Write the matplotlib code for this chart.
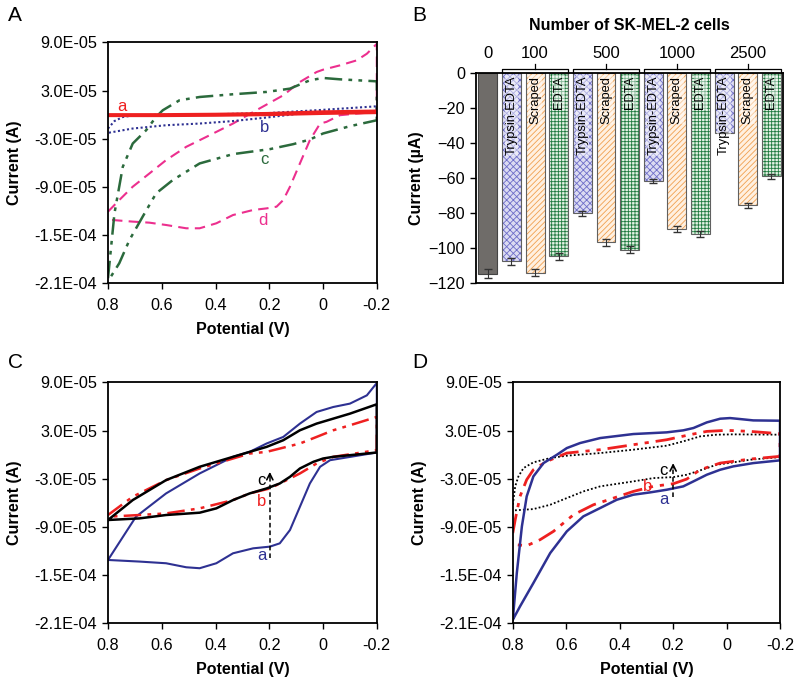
import matplotlib
matplotlib.use("Agg")
import matplotlib.pyplot as plt
import matplotlib.transforms as mtransforms
from matplotlib.ticker import FuncFormatter
import numpy as np

plt.rcParams["font.family"] = ["Liberation Sans", "DejaVu Sans"]
plt.rcParams["hatch.linewidth"] = 0.6

# ---- panel A : CVs (potential in V, current in uA) ----
A_a_up_E = [0.8, 0.6, 0.4, 0.2, 0.0, -0.2]
A_a_up_I = [0.0, 0.0, 0.5, 1.5, 3.5, 4.5]
A_a_lo_E = [-0.2, 0.0, 0.2, 0.4, 0.6, 0.8]
A_a_lo_I = [2.5, 1.5, 0.0, -0.8, -1.2, -1.2]

A_b_up_E = [0.8, 0.776, 0.745, 0.708, 0.6, 0.4, 0.2, 0.0, -0.2]
A_b_up_I = [-17.3, -8.0, -3.0, -1.0, 0.0, 0.5, 2.0, 6.0, 10.4]
A_b_lo_E = [-0.2, 0.0, 0.086, 0.21, 0.335, 0.459, 0.584, 0.708, 0.8]
A_b_lo_I = [4.2, 3.4, 1.3, -3.6, -8.0, -11.1, -13.2, -17.3, -22.7]

A_c_up_E = [0.8, 0.776, 0.745, 0.708, 0.658, 0.621, 0.596, 0.534, 0.459, 0.335,
            0.21, 0.123, 0.049, 0.0, -0.063, -0.2]
A_c_up_I = [-203.8, -123.0, -65.0, -36.0, -19.4, -2.8, 5.5, 17.9, 22.0, 25.4,
            28.3, 32.4, 42.8, 45.7, 44.0, 41.5]
A_c_lo_E = [-0.2, -0.1, 0.0, 0.049, 0.111, 0.198, 0.335, 0.459, 0.559, 0.621,
            0.671, 0.72, 0.758, 0.789]
A_c_lo_I = [-7.0, -14.4, -23.5, -31.0, -36.8, -43.0, -49.2, -60.8, -81.5, -98.1,
            -127.1, -156.1, -185.1, -201.7]

A_d_up_E = [0.8, 0.758, 0.708, 0.646, 0.584, 0.509, 0.434, 0.335, 0.248, 0.148,
            0.086, 0.024, 0.0, -0.063, -0.125, -0.163, -0.2]
A_d_up_I = [-120.9, -106.4, -89.8, -73.3, -56.7, -40.1, -27.7, -11.1, 5.5, 24.1,
            40.7, 53.1, 56.0, 61.4, 67.6, 75.9, 88.3]
A_d_lo_E = [-0.2, -0.125, -0.063, -0.013, 0.011, 0.049, 0.086, 0.123, 0.148, 0.173,
            0.21, 0.26, 0.335, 0.397, 0.459, 0.509, 0.584, 0.646, 0.708, 0.783, 0.8]
A_d_lo_I = [3.4, 1.3, -0.7, -9.0, -11.1, -31.8, -60.8, -89.8, -106.4, -114.7,
            -116.8, -118.8, -125.1, -135.4, -141.6, -141.6, -137.5, -134.6, -133.3,
            -131.3, -131.3]

# ---- panel B : bar chart ----
cell_numbers = ["0", "100", "500", "1000", "2500"]
control_val = -114.5
control_err = 2.5
trypsin_vals = [-107.5, -80.0, -61.5, -34.0]
trypsin_errs = [2.0, 1.5, 1.3, 0.4]
scraped_vals = [-114.0, -96.5, -89.0, -75.5]
scraped_errs = [2.0, 2.0, 1.5, 1.5]
edta_vals = [-104.5, -101.0, -92.0, -59.0]
edta_errs = [2.0, 2.0, 1.8, 1.5]
bar_names = ["Trypsin-EDTA", "Scraped", "EDTA"]

# ---- panel C ----
C_a_up_E = [0.8, 0.696, 0.584, 0.459, 0.335, 0.273, 0.21, 0.148, 0.086, 0.024,
            -0.038, -0.1, -0.163, -0.2]
C_a_up_I = [-131.3, -77.4, -48.4, -23.5, -2.8, 3.4, 13.8, 22.0, 38.6, 53.1,
            59.3, 63.5, 73.8, 89.2]
C_a_lo_E = [-0.2, -0.026, 0.011, 0.049, 0.086, 0.123, 0.161, 0.198, 0.26, 0.335,
            0.397, 0.459, 0.509, 0.584, 0.683, 0.8]
C_a_lo_I = [2.6, -7.0, -15.2, -36.0, -65.0, -94.0, -110.6, -114.7, -116.8, -123.0,
            -135.4, -141.6, -140.4, -135.4, -133.3, -131.3]

C_b_up_E = [0.8, 0.708, 0.584, 0.459, 0.335, 0.273, 0.21, 0.086, 0.024, -0.038,
            -0.1, -0.2]
C_b_up_I = [-75.3, -52.5, -31.8, -17.3, -4.9, 1.3, 3.4, 13.8, 22.0, 30.3, 36.5, 46.9]
C_b_lo_E = [-0.2, -0.038, 0.024, 0.086, 0.148, 0.198, 0.273, 0.335, 0.459, 0.584,
            0.683, 0.8]
C_b_lo_I = [5.5, -2.8, -11.1, -23.5, -33.9, -42.2, -48.4, -56.7, -67.0, -73.3,
            -75.3, -77.4]

C_c_up_E = [0.8, 0.708, 0.584, 0.459, 0.335, 0.273, 0.21, 0.148, 0.086, 0.024,
            -0.038, -0.1, -0.2]
C_c_up_I = [-81.5, -56.7, -31.8, -15.2, -2.8, 3.4, 9.6, 17.9, 30.3, 38.6, 44.8,
            51.0, 62.7]
C_c_lo_E = [-0.2, -0.038, 0.0, 0.036, 0.086, 0.123, 0.161, 0.21, 0.273, 0.335,
            0.397, 0.459, 0.584, 0.683, 0.8]
C_c_lo_I = [2.6, -2.8, -4.9, -9.0, -17.3, -27.7, -36.0, -42.2, -48.4, -56.7,
            -67.0, -72.4, -75.3, -79.5, -81.5]

# ---- panel D ----
D_a_up_E = [0.8, 0.785, 0.766, 0.748, 0.723, 0.685, 0.635, 0.598, 0.548, 0.473,
            0.349, 0.224, 0.162, 0.124, 0.074, 0.024, -0.013, -0.05, -0.1, -0.2]
D_a_up_I = [-205.8, -147.7, -89.5, -52.1, -27.2, -10.6, -0.2, 8.1, 14.4, 20.6,
            25.6, 27.7, 30.2, 33.1, 40.1, 44.7, 45.5, 44.3, 42.6, 42.2]
D_a_lo_E = [-0.2, -0.1, -0.025, 0.024, 0.074, 0.124, 0.162, 0.224, 0.286, 0.349,
            0.411, 0.473, 0.536, 0.598, 0.66, 0.723, 0.773, 0.8]
D_a_lo_I = [-7.2, -10.6, -14.7, -18.9, -25.1, -33.4, -39.6, -43.8, -47.1, -50.0,
            -56.3, -66.6, -77.0, -95.7, -122.7, -160.1, -189.2, -205.8]

D_b_up_E = [0.8, 0.791, 0.773, 0.748, 0.723, 0.673, 0.598, 0.473, 0.349, 0.224,
            0.137, 0.074, 0.0, -0.088, -0.2]
D_b_up_I = [-97.8, -81.2, -52.1, -31.3, -18.9, -8.5, 1.9, 6.1, 12.3, 18.5, 24.8,
            28.9, 30.2, 28.9, 26.0]
D_b_lo_E = [-0.2, -0.088, 0.024, 0.099, 0.149, 0.199, 0.274, 0.349, 0.423, 0.498,
            0.573, 0.648, 0.698, 0.748, 0.785, 0.8]
D_b_lo_I = [-2.2, -5.6, -10.6, -18.9, -30.5, -36.3, -39.6, -45.9, -54.2, -62.5,
            -75.0, -95.7, -106.1, -113.6, -112.4, -110.3]

D_c_up_E = [0.8, 0.791, 0.779, 0.76, 0.723, 0.66, 0.598, 0.473, 0.349, 0.224,
            0.162, 0.099, 0.037, -0.025, -0.2]
D_c_up_I = [-62.5, -39.6, -27.2, -16.8, -9.7, -4.3, -1.4, 1.9, 6.1, 11.1, 16.5,
            22.7, 24.8, 25.2, 24.8]
D_c_lo_E = [-0.2, -0.088, -0.025, 0.037, 0.099, 0.149, 0.199, 0.274, 0.349, 0.473,
            0.536, 0.598, 0.66, 0.723, 0.8]
D_c_lo_I = [-3.1, -6.4, -9.7, -12.6, -19.7, -25.1, -28.0, -29.3, -33.4, -39.6,
            -45.9, -54.2, -62.5, -67.9, -69.6]

potential_ticks = [0.8, 0.6, 0.4, 0.2, 0.0, -0.2]
potential_labels = ["0.8", "0.6", "0.4", "0.2", "0", "-0.2"]
current_ticks = [-2.1e-4, -1.5e-4, -9e-5, -3e-5, 3e-5, 9e-5]

RED = "#ee2020"
BLUE = "#2e3192"
GREEN = "#2b6a3c"
PINK = "#ec2f8e"
DDOT = (0, (7, 2.5, 1.5, 2.5, 1.5, 2.5))

fig = plt.figure(figsize=(8, 6.84), dpi=100)
axA = fig.add_axes([0.135, 0.586, 0.336, 0.352])
axB = fig.add_axes([0.595, 0.586, 0.384, 0.307])
axC = fig.add_axes([0.135, 0.089, 0.336, 0.352])
axD = fig.add_axes([0.641, 0.089, 0.334, 0.352])


def cv(ax, e_up, i_up, e_lo, i_lo, **kw):
    e = np.concatenate([e_up, e_lo])
    i = np.concatenate([i_up, i_lo]) * 1e-6
    ax.plot(e, i, **kw)


def style_cv(ax):
    ax.set_xlim(0.8, -0.2)
    ax.set_ylim(-2.1e-4, 9e-5)
    ax.set_xticks(potential_ticks)
    ax.set_xticklabels(potential_labels)
    ax.set_yticks(current_ticks)
    ax.yaxis.set_major_formatter(FuncFormatter(lambda v, p: f"{v:.1E}"))
    ax.tick_params(direction="out", length=4, width=1, labelsize=11.7)
    ax.tick_params(axis="x", pad=7)
    ax.tick_params(axis="y", pad=4)
    for s in ax.spines.values():
        s.set_linewidth(1.3)
    ax.set_xlabel("Potential (V)", fontsize=11.5, fontweight="bold", labelpad=6)
    ax.set_ylabel("Current (A)", fontsize=11.5, fontweight="bold", labelpad=9)


def updown_arrow(ax, x, y0, y1):
    ax.plot([x, x], [y0 * 1e-6, (y1 - 3) * 1e-6], color="k", lw=1.1, ls=(0, (3, 2)))
    ax.annotate("", xy=(x, y1 * 1e-6), xytext=(x, (y1 - 6) * 1e-6),
                arrowprops=dict(arrowstyle="->", color="k", lw=1.2,
                                shrinkA=0, shrinkB=0, mutation_scale=11))


# panel A
cv(axA, A_d_up_E, A_d_up_I, A_d_lo_E, A_d_lo_I, color=PINK, lw=1.5, ls=(0, (5, 3)))
cv(axA, A_c_up_E, A_c_up_I, A_c_lo_E, A_c_lo_I, color=GREEN, lw=1.8, ls=DDOT)
cv(axA, A_b_up_E, A_b_up_I, A_b_lo_E, A_b_lo_I, color=BLUE, lw=1.5, ls=(0, (1, 1.2)))
cv(axA, A_a_up_E, A_a_up_I, A_a_lo_E, A_a_lo_I, color=RED, lw=2.2)
style_cv(axA)
axA.text(0.748, 10.4e-6, "a", color=RED, fontsize=12, ha="center", va="center")
axA.text(0.217, -16.5e-6, "b", color=BLUE, fontsize=12, ha="center", va="center")
axA.text(0.217, -55.8e-6, "c", color=GREEN, fontsize=12, ha="center", va="center")
axA.text(0.223, -131.3e-6, "d", color=PINK, fontsize=12, ha="center", va="center")

# panel B
x_ctrl = 0
groups = np.arange(len(trypsin_vals))
x_tryp = 1 + 3 * groups
x_scr = 2 + 3 * groups
x_edta = 3 + 3 * groups

axB.bar(x_ctrl, control_val, 0.8, color="#6f6c69", edgecolor="#444444", lw=0.8)
series = [
    (x_tryp, trypsin_vals, trypsin_errs, "#dcdcf2", "#6e6ec8", "xxxxx"),
    (x_scr, scraped_vals, scraped_errs, "#fff0e0", "#f0a050", "//////"),
    (x_edta, edta_vals, edta_errs, "#e4f2e4", "#1f7a3f", "+++++"),
]
for xs, vals, errs, face, hc, h in series:
    axB.bar(xs, vals, 0.8, color=face, edgecolor=hc, hatch=h, lw=0)
    axB.bar(xs, vals, 0.8, fill=False, edgecolor="#606060", lw=0.8)
axB.errorbar([x_ctrl], [control_val], yerr=[control_err], fmt="none",
             ecolor="#333333", elinewidth=0.8, capsize=3)
for xs, vals, errs, face, hc, h in series:
    axB.errorbar(xs, vals, yerr=errs, fmt="none", ecolor="#333333",
                 elinewidth=0.8, capsize=3)
for k, (xs, vals, errs, face, hc, h) in enumerate(series):
    for xv in xs:
        axB.text(xv, -1.5, bar_names[k], rotation=90, ha="center", va="top",
                 fontsize=9.3, color="black",
                 bbox=dict(facecolor="white", alpha=0.45, edgecolor="none", pad=0.6))

axB.set_xlim(-0.5, 12.5)
axB.set_ylim(-120, 0)
axB.set_yticks(range(-120, 1, 20))
axB.set_xticks([])
axB.tick_params(direction="out", length=4, width=1, labelsize=11.7, pad=4)
for s in axB.spines.values():
    s.set_linewidth(1.3)
axB.set_ylabel("Current (\u00b5A)", fontsize=11.5, fontweight="bold", labelpad=3)

trans = mtransforms.blended_transform_factory(axB.transData, axB.transAxes)
group_centers = [0] + list(x_scr)
for k, label in enumerate(cell_numbers):
    axB.text(group_centers[k], 1.095, label, transform=trans, ha="center",
             va="center", fontsize=12)
for g in groups:
    left = x_tryp[g] - 0.4
    right = x_edta[g] + 0.4
    mid = x_scr[g]
    axB.plot([left, left, right, right], [1.0, 1.022, 1.022, 1.0], transform=trans,
             color="k", lw=0.9, clip_on=False)
    axB.plot([mid, mid], [1.022, 1.045], transform=trans, color="k", lw=0.9,
             clip_on=False)
axB.text(0.5, 1.229, "Number of SK-MEL-2 cells", transform=axB.transAxes,
         ha="center", va="center", fontsize=11.5, fontweight="bold")

# panel C
cv(axC, C_a_up_E, C_a_up_I, C_a_lo_E, C_a_lo_I, color=BLUE, lw=1.5)
cv(axC, C_b_up_E, C_b_up_I, C_b_lo_E, C_b_lo_I, color=RED, lw=1.8, ls=DDOT)
cv(axC, C_c_up_E, C_c_up_I, C_c_lo_E, C_c_lo_I, color="k", lw=1.8)
style_cv(axC)
updown_arrow(axC, 0.198, -129.0, -21.5)
axC.text(0.229, -31.8e-6, "c", color="k", fontsize=12, ha="center", va="center")
axC.text(0.229, -58.8e-6, "b", color=RED, fontsize=12, ha="center", va="center")
axC.text(0.229, -126.3e-6, "a", color=BLUE, fontsize=12, ha="center", va="center")

# panel D
cv(axD, D_c_up_E, D_c_up_I, D_c_lo_E, D_c_lo_I, color="k", lw=1.3, ls=(0, (1, 1.2)))
cv(axD, D_b_up_E, D_b_up_I, D_b_lo_E, D_b_lo_I, color=RED, lw=2.0, ls=DDOT)
cv(axD, D_a_up_E, D_a_up_I, D_a_lo_E, D_a_lo_I, color=BLUE, lw=1.8)
style_cv(axD)
updown_arrow(axD, 0.2, -52.9, -10.6)
axD.text(0.236, -19.7e-6, "c", color="k", fontsize=12, ha="center", va="center")
axD.text(0.296, -39.6e-6, "b", color=RED, fontsize=12, ha="center", va="center")
axD.text(0.236, -55.4e-6, "a", color=BLUE, fontsize=12, ha="center", va="center")

for lab, x, y in [("A", 0.01, 0.978), ("B", 0.515, 0.978), ("C", 0.01, 0.47),
                  ("D", 0.515, 0.47)]:
    fig.text(x, y, lab, fontsize=15, ha="left", va="center")

fig.savefig("out.png", dpi=100)
